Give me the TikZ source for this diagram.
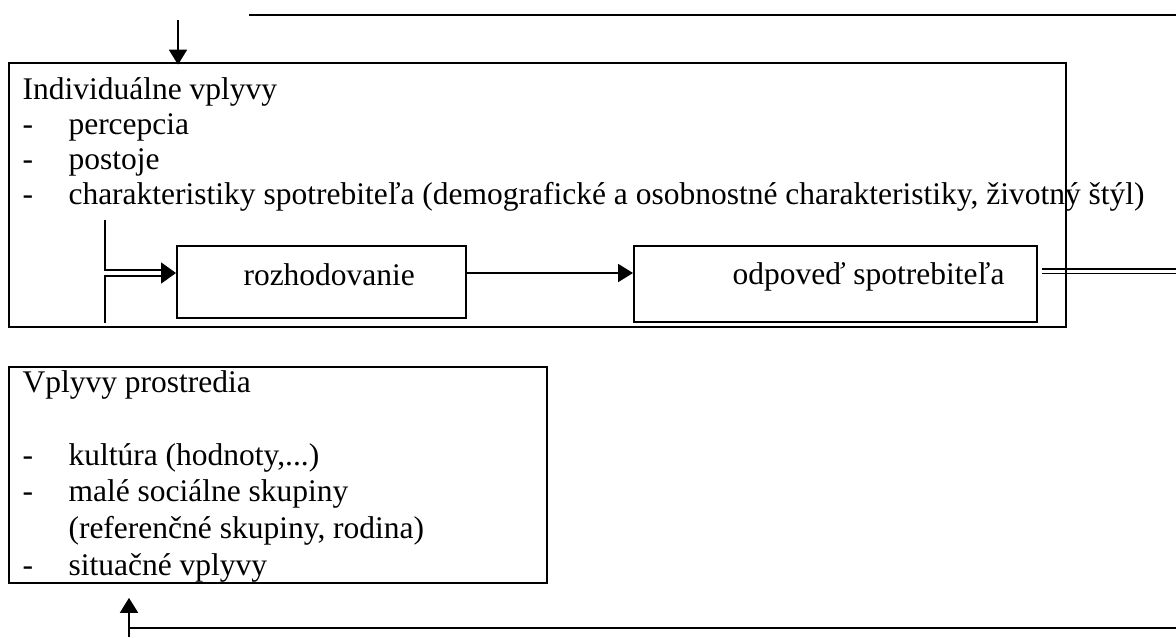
\documentclass[tikz,border=0pt]{standalone}
\usepackage{fontspec}
\setmainfont{Liberation Serif}
\usetikzlibrary{arrows.meta,fit}
\begin{document}
\begin{tikzpicture}[x=0.381pt,y=-0.381pt,
  box/.style={draw,line width=0.75pt,inner sep=0pt},
  txt/.style={inner sep=0pt,anchor=base west,font=\fontsize{12}{14}\selectfont},
  ln/.style={line width=0.55pt},
  arr/.style={ln,-{Triangle[length=5.7pt,width=6.9pt]}},
  darr/.style={ln,-{Triangle[length=5.7pt,width=8pt]}}]
\useasboundingbox (0,0) rectangle (1176,637);
% boxes
\node[box,fit={(9,63)(1066,327)}] (indiv) {};
\node[box,fit={(177,246)(466,318)}] (rozh) {};
\node[box,fit={(634,246)(1037,322)}] (odp) {};
\node[box,fit={(9,367)(547,583)}] (envi) {};
% texts of upper box
\node[txt] (i0) at (22,99) {Individuálne vplyvy};
\node[txt] (d1) at (22,134) {-};
\node[txt] (i1) at (68,134) {percepcia};
\node[txt] (d2) at (22,169) {-};
\node[txt] (i2) at (68,169) {postoje};
\node[txt] (d3) at (22,204) {-};
\node[txt] (i3) at (68,204) {charakteristiky spotrebiteľa (demografické a osobnostné charakteristiky, životný štýl)};
\node[txt] (rozht) at (243,285) {rozhodovanie};
\node[txt,anchor=base east] (odpt) at (1005,284) {odpoveď spotrebiteľa};
% texts of lower box
\node[txt] (e0) at (22,392) {Vplyvy prostredia};
\node[txt] (f1) at (22,465) {-};
\node[txt] (e1) at (68,465) {kultúra (hodnoty,...)};
\node[txt] (f2) at (22,501) {-};
\node[txt] (e2) at (68,501) {malé sociálne skupiny};
\node[txt] (e3) at (68,538) {(referenčné skupiny, rodina)};
\node[txt] (f4) at (22,575) {-};
\node[txt] (e4) at (68,575) {situačné vplyvy};
% coordinates
\coordinate (ay) at (0,273);
\coordinate (tl1) at (249,15);
\coordinate (tl2) at (1176,15);
\coordinate (ta) at (178,20);
\coordinate (la) at (105,220);
\coordinate (lb) at (105,323);
\coordinate (lt) at (162,270);
\coordinate (lu) at (162,276);
\coordinate (lm) at (162,273);
\coordinate (r1a) at (1042,269);
\coordinate (r1b) at (1176,269);
\coordinate (r2a) at (1042,273.5);
\coordinate (r2b) at (1176,273.5);
\coordinate (b0) at (129,637);
\coordinate (bh1) at (129,628);
\coordinate (bh2) at (1176,628);
% connectors
\draw[ln] (tl1) -- (tl2);
\draw[arr,shorten >=-1pt] (ta) -- (ta |- indiv.north);
\draw[ln] (la) |- (lt);
\draw[ln] (lb) |- (lu);
\draw[darr] (lm) -- (rozh.west |- ay);
\draw[arr] (rozh.east |- ay) -- (odp.west |- ay);
\draw[ln] (r1a) -- (r1b);
\draw[ln] (r2a) -- (r2b);
\draw[arr,shorten >=5.3pt] (b0) -- (b0 |- envi.south);
\draw[ln] (bh1) -- (bh2);
\end{tikzpicture}
\end{document}
